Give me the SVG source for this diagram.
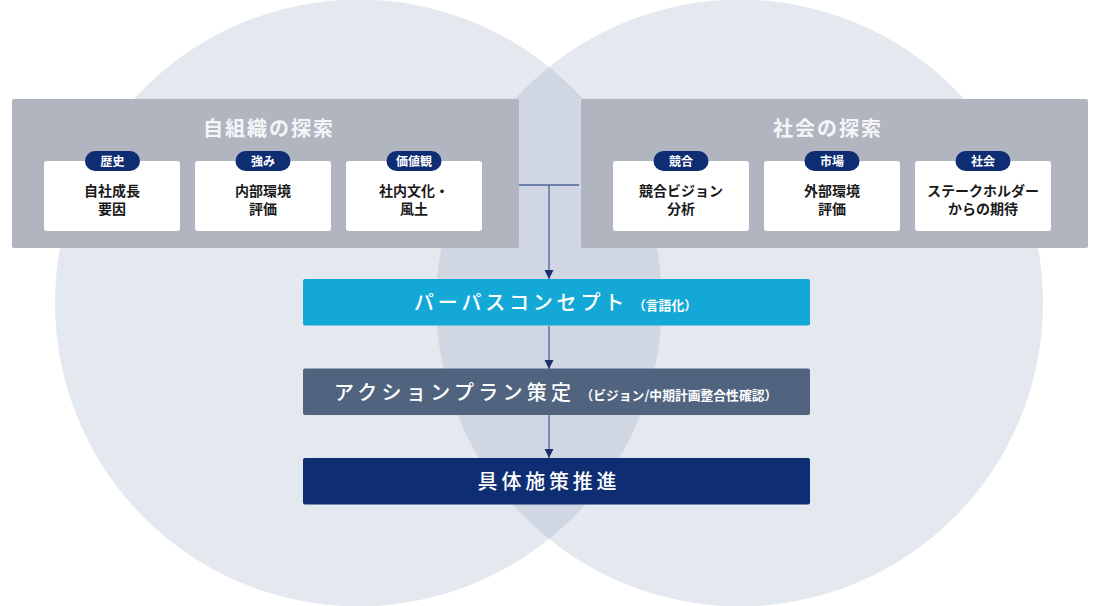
<svg xmlns="http://www.w3.org/2000/svg" width="1100" height="606" viewBox="0 0 1100 606">
<defs>
<style>
.t{font-family:"Noto Sans CJK JP","Noto Sans",sans-serif;}
.panel{fill:#b1b5c0;}
.card{fill:#ffffff;}
.pill{fill:#0f2d72;}
.ptitle{font-size:20px;font-weight:700;fill:#f4f5f8;letter-spacing:2px;text-anchor:middle;}
.pilltxt{font-size:12px;font-weight:700;fill:#ffffff;text-anchor:middle;}
.ctxt{font-size:14px;font-weight:700;fill:#1a1a1a;text-anchor:middle;}
.btxt{font-size:20px;font-weight:500;fill:#ffffff;letter-spacing:3.8px;}
.bsub{font-size:12.8px;font-weight:700;fill:#ffffff;letter-spacing:0px;}
.conn{stroke:#4f6398;stroke-width:1.3;fill:none;}
</style>
<marker id="ah" markerWidth="10" markerHeight="10" refX="9" refY="5" orient="auto" markerUnits="userSpaceOnUse">
<path d="M0,0.5 L9,5 L0,9.5 z" fill="#1b2f6e"/>
</marker>
<clipPath id="clipL"><circle cx="358.4" cy="303" r="303.4"/></clipPath>
</defs>
<rect width="1100" height="606" fill="#ffffff"/>
<g id="background">
<circle cx="358.4" cy="303" r="303.4" fill="#e4e8ef"/>
<circle cx="739.6" cy="303" r="303.4" fill="#e4e8ef"/>
<circle cx="739.6" cy="303" r="303.4" fill="#d0d7e3" clip-path="url(#clipL)"/>
</g>
<g id="connectors">
<line class="conn" x1="517" y1="185" x2="579" y2="185"/>
<line class="conn" x1="549" y1="185" x2="549" y2="279" marker-end="url(#ah)"/>
<line class="conn" x1="549" y1="326" x2="549" y2="369" marker-end="url(#ah)"/>
<line class="conn" x1="549" y1="415" x2="549" y2="458" marker-end="url(#ah)"/>
</g>
<g id="self-org">
<rect class="panel" x="12" y="99" width="507" height="149" rx="2"/>
<text class="t ptitle" x="269" y="136">自組織の探索</text>
</g>
<g id="card-history">
<rect class="card" x="44" y="161" width="136" height="70" rx="3"/>
<rect class="pill" x="85" y="151" width="55" height="20" rx="10"/>
<text class="t pilltxt" x="112.5" y="165.5">歴史</text>
<text class="t ctxt" x="112" y="196">自社成長</text>
<text class="t ctxt" x="112" y="214">要因</text>
</g>
<g id="card-strength">
<rect class="card" x="195" y="161" width="136" height="70" rx="3"/>
<rect class="pill" x="235.5" y="151" width="55" height="20" rx="10"/>
<text class="t pilltxt" x="263" y="165.5">強み</text>
<text class="t ctxt" x="263" y="196">内部環境</text>
<text class="t ctxt" x="263" y="214">評価</text>
</g>
<g id="card-values">
<rect class="card" x="346" y="161" width="136" height="70" rx="3"/>
<rect class="pill" x="386.5" y="151" width="55" height="20" rx="10"/>
<text class="t pilltxt" x="414" y="165.5">価値観</text>
<text class="t ctxt" x="414" y="196">社内文化・</text>
<text class="t ctxt" x="414" y="214">風土</text>
</g>
<g id="society">
<rect class="panel" x="581" y="99" width="507" height="149" rx="2"/>
<text class="t ptitle" x="828" y="136">社会の探索</text>
</g>
<g id="card-competition">
<rect class="card" x="613" y="161" width="136" height="70" rx="3"/>
<rect class="pill" x="653.5" y="151" width="55" height="20" rx="10"/>
<text class="t pilltxt" x="681" y="165.5">競合</text>
<text class="t ctxt" x="681" y="196">競合ビジョン</text>
<text class="t ctxt" x="681" y="214">分析</text>
</g>
<g id="card-market">
<rect class="card" x="764" y="161" width="136" height="70" rx="3"/>
<rect class="pill" x="804.5" y="151" width="55" height="20" rx="10"/>
<text class="t pilltxt" x="832" y="165.5">市場</text>
<text class="t ctxt" x="832" y="196">外部環境</text>
<text class="t ctxt" x="832" y="214">評価</text>
</g>
<g id="card-society">
<rect class="card" x="915" y="161" width="136" height="70" rx="3"/>
<rect class="pill" x="955.5" y="151" width="55" height="20" rx="10"/>
<text class="t pilltxt" x="983" y="165.5">社会</text>
<text class="t ctxt" x="983" y="196">ステークホルダー</text>
<text class="t ctxt" x="983" y="214">からの期待</text>
</g>
<g id="purpose">
<rect x="303" y="279" width="507" height="46.5" rx="2" fill="#14a8d6"/>
<text class="t btxt" x="414" y="310">パーパスコンセプト<tspan class="bsub" dx="5">（言語化）</tspan></text>
</g>
<g id="action-plan">
<rect x="303" y="368.5" width="507" height="46.5" rx="2" fill="#50637f"/>
<text class="t btxt" x="334" y="399.5" style="letter-spacing:4.3px">アクションプラン策定<tspan class="bsub" dx="5">（ビジョン/中期計画整合性確認）</tspan></text>
</g>
<g id="execution">
<rect x="303" y="458" width="507" height="46.5" rx="2" fill="#0f2d72"/>
<text class="t btxt" x="549" y="488.5" text-anchor="middle" font-weight="700" style="letter-spacing:3.8px">具体施策推進</text>
</g>
</svg>
